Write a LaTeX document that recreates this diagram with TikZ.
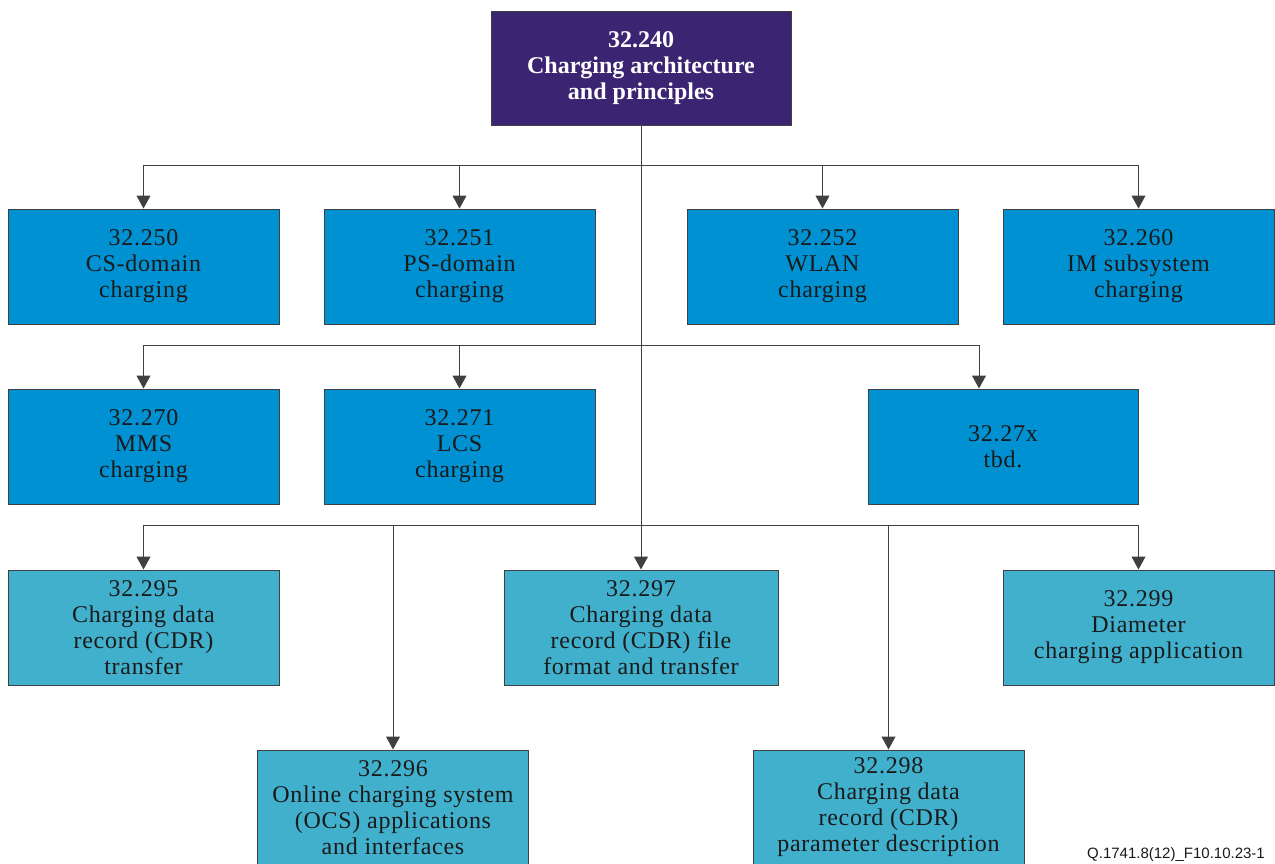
\documentclass[tikz,border=0pt]{standalone}
\usepackage{fontspec}
\setmainfont{Liberation Serif}
\newfontfamily\boxfont{Liberation Serif}[LetterSpace=3]
\newfontfamily\topfont{Liberation Serif}
\newfontfamily\figidfont{Liberation Sans}
\usetikzlibrary{arrows.meta}
\definecolor{topfill}{HTML}{3B2472}
\definecolor{bluefill}{HTML}{0091D3}
\definecolor{tealfill}{HTML}{41B0CD}
\definecolor{txt}{HTML}{1A1A1A}
\tikzset{
  box/.style={draw=black!75, line width=0.5pt, rectangle, inner sep=0pt, align=center,
    minimum width=135.5pt, minimum height=57.5pt, text=txt,
    font=\boxfont\fontsize{12}{13}\selectfont},
  bluebox/.style={box, fill=bluefill},
  tealbox/.style={box, fill=tealfill},
  topbox/.style={box, fill=topfill, text=white, minimum width=150pt, minimum height=57pt,
    font=\topfont\bfseries\fontsize{12}{13.2}\selectfont},
  conn/.style={draw=black!75, line width=0.5pt},
  arr/.style={conn, -{Triangle[width=7pt,length=6.5pt]}}
}
\begin{document}
\begin{tikzpicture}[x=0.5pt,y=-0.5pt]
\useasboundingbox (0,0) rectangle (1275,863);
% nodes
\node[topbox] (top) at (641,68) {32.240\\Charging architecture\\and principles};
\node[bluebox] (n250) at (143.5,266.5) {32.250\\CS-domain\\charging};
\node[bluebox] (n251) at (459.5,266.5) {32.251\\PS-domain\\charging};
\node[bluebox] (n252) at (822.5,266.5) {32.252\\WLAN\\charging};
\node[bluebox] (n260) at (1138.5,266.5) {32.260\\IM subsystem\\charging};
\node[bluebox] (n270) at (143.5,446.5) {32.270\\MMS\\charging};
\node[bluebox] (n271) at (459.5,446.5) {32.271\\LCS\\charging};
\node[bluebox, minimum width=135pt] (n27x) at (1003,446.5) {32.27x\\tbd.};
\node[tealbox] (n295) at (143.5,627.5) {32.295\\Charging data\\record (CDR)\\transfer};
\node[tealbox, minimum width=137pt] (n297) at (641,627.5) {32.297\\Charging data\\record (CDR) file\\format and transfer};
\node[tealbox] (n299) at (1138.5,627.5) {32.299\\Diameter\\charging application};
\node[tealbox] (n296) at (393,807.5) {32.296\\Online charging system\\(OCS) applications\\and interfaces};
\node[tealbox] (n298) at (888.5,807.5) {32.298\\Charging data\\record (CDR)\\parameter description};
\node[font=\figidfont\fontsize{7.5}{9}\selectfont, text=txt, inner sep=0pt] (figid) at (1176,855) {Q.1741.8(12)\_F10.10.23-1};
% bus junctions on trunk
\coordinate (b1) at (642,165);
\coordinate (b2) at (642,345);
\coordinate (b3) at (642,525);
% trunk
\draw[arr] (top.south) -- (n297.north);
% row 1
\draw[arr] (b1) -| (n250.north);
\draw[arr] (b1) -| (n251.north);
\draw[arr] (b1) -| (n252.north);
\draw[arr] (b1) -| (n260.north);
% row 2
\draw[arr] (b2) -| (n270.north);
\draw[arr] (b2) -| (n271.north);
\draw[arr] (b2) -| ([xshift=-12pt]n27x.north);
% row 3/4
\draw[arr] (b3) -| (n295.north);
\draw[arr] (b3) -| (n296.north);
\draw[arr] (b3) -| (n298.north);
\draw[arr] (b3) -| (n299.north);
\end{tikzpicture}
\end{document}
